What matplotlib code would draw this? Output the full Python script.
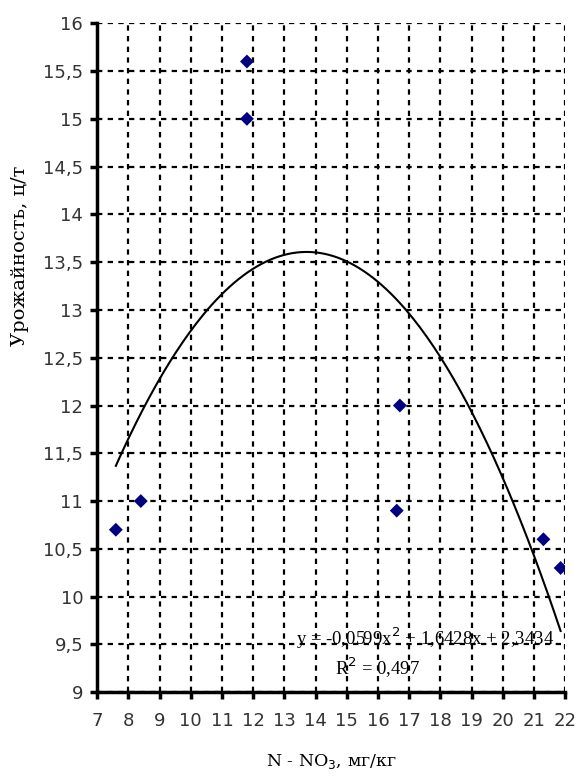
import numpy as np
import matplotlib.pyplot as plt

# data
nitrate = [7.6, 8.4, 11.8, 11.8, 16.7, 16.6, 21.3, 21.85]
yield_ct = [10.7, 11.0, 15.6, 15.0, 12.0, 10.9, 10.6, 10.3]
# trend coefficients as printed on the chart (a, b, c)
trend_coef = [-0.0599, 1.6428, 2.3434]
trend_r2 = 0.497

x_ticks = list(range(7, 23))
y_ticks = [9 + 0.5 * i for i in range(15)]

fig = plt.figure(figsize=(5.78, 7.76), dpi=100)
ax = fig.add_axes([0.168, 0.108, 0.81, 0.862])

xs = np.linspace(min(nitrate), max(nitrate), 200)
ax.plot(xs, np.polyval(trend_coef, xs), color="black", lw=1.5, zorder=3)
ax.scatter(nitrate, yield_ct, marker="D", s=50, color="#000080",
           edgecolors="none", zorder=4)

ax.set_xlim(7, 22)
ax.set_ylim(9, 16)
ax.set_xticks(x_ticks)
ax.set_yticks(y_ticks)
ax.set_yticklabels([f"{v:g}".replace(".", ",") for v in y_ticks])

ax.grid(True, color="black", lw=1.6, linestyle=(0, (2.4, 2.4)))
ax.set_axisbelow(True)

for side in ("top", "right"):
    ax.spines[side].set_visible(False)
for side in ("left", "bottom"):
    ax.spines[side].set_linewidth(2.5)

ax.tick_params(axis="both", direction="out", length=5, width=2.5,
               labelsize=13, colors="black", labelcolor="#333333")
ax.tick_params(axis="y", pad=5)
ax.tick_params(axis="x", pad=9)
for lab in ax.get_xticklabels() + ax.get_yticklabels():
    lab.set_fontfamily("DejaVu Sans")

serif = "DejaVu Serif"
ax.set_ylabel("Урожайность, ц/т", fontsize=14, fontfamily=serif)
ax.yaxis.set_label_coords(-0.145, 0.652)
ax.set_xlabel("N - NO$_3$, мг/кг", fontsize=12.5, fontfamily=serif, labelpad=16)

a, b, c = trend_coef
eq = (f"y = {a:.4f}x$^2$ + {b:.4f}x + {c:.4f}").replace(".", ",")
ax.text(17.5, 9.56, eq, fontsize=13.5, fontfamily="Liberation Serif",
        ha="center", va="center")
ax.text(16.0, 9.26, f"R$^2$ = {trend_r2}".replace(".", ","), fontsize=13.5,
        fontfamily="Liberation Serif", ha="center", va="center")

fig.savefig("out.png", dpi=100)
